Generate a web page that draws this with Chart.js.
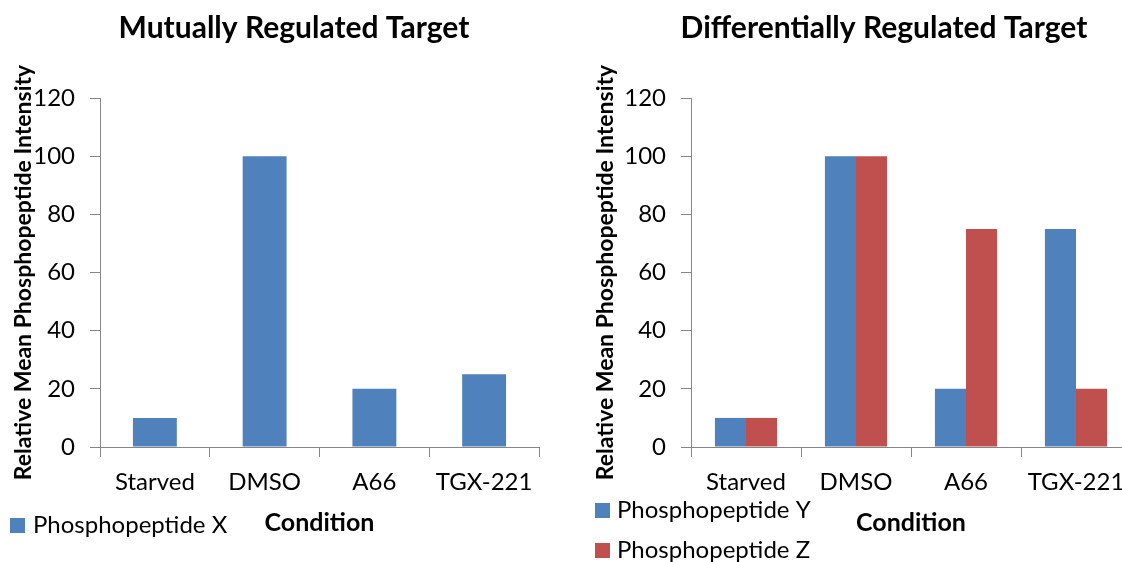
<!DOCTYPE html>
<html>
<head>
<meta charset="utf-8">
<script src="https://cdn.jsdelivr.net/npm/chart.js@4.4.1/dist/chart.umd.min.js"></script>
<style>
  html, body { margin: 0; padding: 0; background: #fff; }
  #wrap { position: relative; width: 1122px; height: 562px; overflow: hidden; }
  canvas { position: absolute; top: 0; }
  #left { left: 0; }
  #right { left: 590px; }
</style>
</head>
<body>
<div id="wrap">
  <canvas id="left" width="588" height="562"></canvas>
  <canvas id="right" width="588" height="562"></canvas>
</div>
<script>
// Conditions and relative mean phosphopeptide intensities
const conditions = ['Starved', 'DMSO', 'A66', 'TGX-221'];
const peptideX = [10, 100, 20, 25];
const peptideY = [10, 100, 20, 75];
const peptideZ = [10, 100, 75, 20];
const yTicks = [0, 20, 40, 60, 80, 100, 120];

const BLUE = '#4F81BD';
const RED = '#C0504D';
const AXIS = '#868686';
const FONT = 'Lato';

Chart.defaults.font.family = FONT;
Chart.defaults.color = '#000';

// Legend drawn beside the category axis title, one row per dataset
const sideLegend = {
  id: 'sideLegend',
  afterDraw(chart, args, opts) {
    const ctx = chart.ctx;
    ctx.save();
    ctx.font = `${opts.size}px ${FONT}`;
    ctx.textBaseline = 'middle';
    ctx.textAlign = 'left';
    chart.data.datasets.forEach((ds, i) => {
      const cy = opts.y + i * opts.rowGap;
      ctx.fillStyle = ds.backgroundColor;
      ctx.fillRect(opts.x, cy - opts.box / 2, opts.box, opts.box);
      ctx.fillStyle = '#000';
      ctx.fillText(ds.label, opts.x + opts.box + opts.gap, cy);
    });
    ctx.restore();
  }
};

function makeChart(id, titleText, datasets, cfg) {
  return new Chart(document.getElementById(id), {
    type: 'bar',
    data: { labels: conditions, datasets },
    plugins: [sideLegend],
    options: {
      responsive: false,
      animation: false,
      devicePixelRatio: 1,
      layout: { padding: 0 },
      datasets: {
        bar: { categoryPercentage: cfg.catPct, barPercentage: 1, borderWidth: 0 }
      },
      plugins: {
        legend: { display: false },
        tooltip: { enabled: false },
        title: {
          display: true,
          text: titleText,
          color: '#000',
          font: { family: FONT, size: 30, weight: 'bold' },
          padding: { top: 10, bottom: 52 }
        },
        sideLegend: cfg.legend
      },
      scales: {
        x: {
          // fixed axis band height; right-side gap keeps the title centred on the full canvas
          afterFit(scale) { scale.height = 115; scale.paddingRight = cfg.gapRight; },
          border: { display: true, color: AXIS, width: 1 },
          grid: { display: true, drawOnChartArea: false, drawTicks: true, tickLength: 10, color: AXIS, offset: true },
          ticks: { font: { size: 24 }, color: '#000', padding: 11, maxRotation: 0 },
          title: {
            display: true,
            text: 'Condition',
            color: '#000',
            font: { size: 25, weight: 'bold' },
            padding: { top: 0, bottom: 24 }
          }
        },
        y: {
          min: yTicks[0],
          max: yTicks[yTicks.length - 1],
          afterFit(scale) { scale.width = cfg.yWidth; },
          afterBuildTicks(scale) { scale.ticks = yTicks.map(v => ({ value: v })); },
          border: { display: true, color: AXIS, width: 1 },
          grid: { display: true, drawOnChartArea: false, drawTicks: true, tickLength: 10, color: AXIS },
          ticks: { font: { size: 24 }, color: '#000', padding: 15 },
          title: {
            display: true,
            text: 'Relative Mean Phosphopeptide Intensity',
            color: '#000',
            font: { size: 23, weight: 'bold' },
            padding: { top: cfg.yTitlePad, bottom: 0 }
          }
        }
      }
    }
  });
}

makeChart('left', 'Mutually Regulated Target', [
  { label: 'Phosphopeptide X', data: peptideX, backgroundColor: BLUE }
], {
  gapRight: 49, yWidth: 100, catPct: 0.4, yTitlePad: 9.7,
  legend: { x: 10, y: 525.5, rowGap: 40, box: 15, gap: 8, size: 24 }
});

makeChart('right', 'Differentially Regulated Target', [
  { label: 'Phosphopeptide Y', data: peptideY, backgroundColor: BLUE },
  { label: 'Phosphopeptide Z', data: peptideZ, backgroundColor: RED }
], {
  gapRight: 47, yWidth: 101, catPct: 0.565, yTitlePad: 2.2,
  legend: { x: 5, y: 510.5, rowGap: 40, box: 15, gap: 7, size: 24 }
});
</script>
</body>
</html>
